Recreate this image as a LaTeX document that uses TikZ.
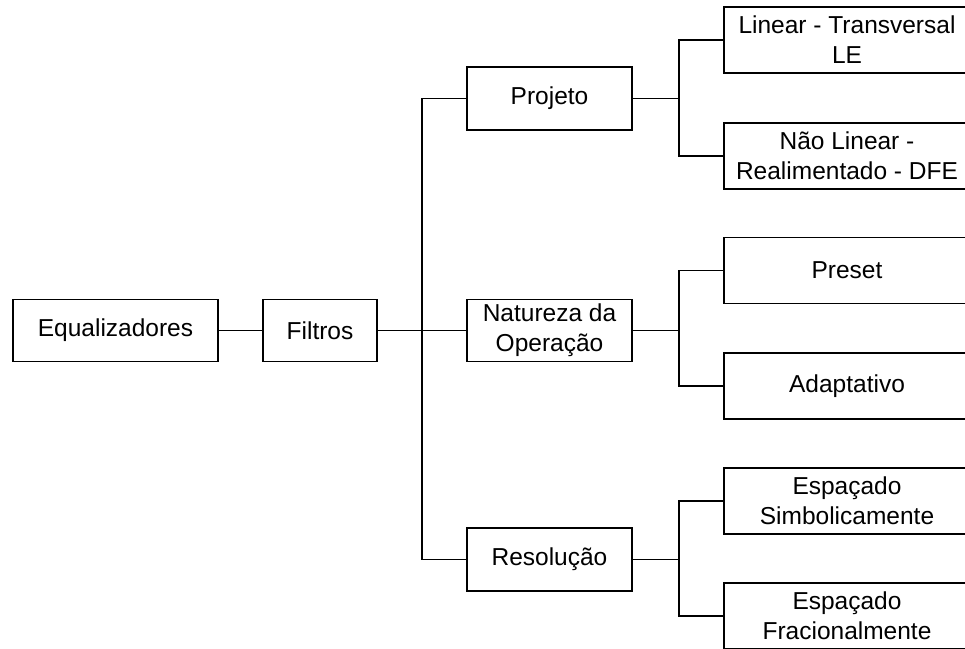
\documentclass[tikz,border=0pt]{standalone}
\usepackage{fontspec}
\setmainfont{Liberation Sans}
\begin{document}
\begin{tikzpicture}[x=1pt,y=-1pt,
  box/.style={draw,line width=1.6pt,rectangle,inner sep=0pt,align=center,
    font=\fontsize{24.5}{30}\selectfont,minimum height=62pt},
  leaf/.style={box,minimum width=246pt,minimum height=66pt},
  conn/.style={line width=1.6pt}]
\useasboundingbox (0,0) rectangle (965,648);
\clip (0,0) rectangle (965,648);
\node[box,minimum width=205pt] (eq) at (115.5,330.5) {Equalizadores};
\node[box,minimum width=114pt] (fil) at (320,330.5) {Filtros};
\node[box,minimum width=165pt,minimum height=63pt] (proj) at (549.5,98.5) {Projeto};
\node[box,minimum width=165pt] (nat) at (549.5,330.5) {Natureza da\\Operação};
\node[box,minimum width=165pt,minimum height=63pt] (res) at (549.5,559.5) {Resolução};
\node[leaf] (l1) at (847,40) {Linear - Transversal\\LE};
\node[leaf] (l2) at (847,156) {Não Linear -\\Realimentado - DFE};
\node[leaf] (l3) at (847,270.5) {Preset};
\node[leaf] (l4) at (847,386) {Adaptativo};
\node[leaf] (l5) at (847,501) {Espaçado\\Simbolicamente};
\node[leaf] (l6) at (847,616) {Espaçado\\Fracionalmente};
\coordinate (j1) at (422,330.5);
\coordinate (ja) at (679,98.5);
\coordinate (jb) at (679,330.5);
\coordinate (jc) at (679,559.5);
\draw[conn] (eq) -- (fil);
\draw[conn] (fil) -- (nat);
\draw[conn] (proj.west) -| (j1) |- (res.west);
\draw[conn] (proj) -- (ja);
\draw[conn] (nat) -- (jb);
\draw[conn] (res) -- (jc);
\draw[conn] (l1.west) -| (ja) |- (l2.west);
\draw[conn] (l3.west) -| (jb) |- (l4.west);
\draw[conn] (l5.west) -| (jc) |- (l6.west);
\end{tikzpicture}
\end{document}
